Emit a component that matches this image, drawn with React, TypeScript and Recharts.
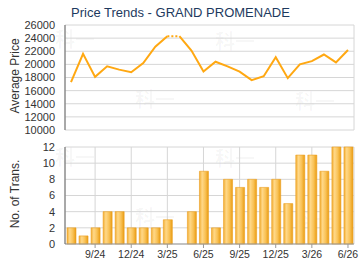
import { LineChart, Line, BarChart, Bar, XAxis, YAxis, CartesianGrid } from "recharts";

const months = [
  "7/24", "8/24", "9/24", "10/24", "11/24", "12/24", "1/25", "2/25", "3/25", "4/25", "5/25", "6/25",
  "7/25", "8/25", "9/25", "10/25", "11/25", "12/25", "1/26", "2/26", "3/26", "4/26", "5/26", "6/26",
];
const avgPrice = [
  17300, 21600, 18100, 19700, 19200, 18800, 20200, 22700, 24300, 24300, 22100, 18900,
  20400, 19700, 18900, 17600, 18200, 21100, 17900, 20000, 20500, 21500, 20300, 22200,
];
const noTrans = [2, 1, 2, 4, 4, 2, 2, 2, 3, 0, 4, 9, 2, 8, 7, 8, 7, 8, 5, 11, 11, 9, 12, 12];
const tickMonths = ["9/24", "12/24", "3/25", "6/25", "9/25", "12/25", "3/26", "6/26"];
const priceTicks = [10000, 12000, 14000, 16000, 18000, 20000, 22000, 24000, 26000];
const transTicks = [0, 2, 4, 6, 8, 10, 12];

// month with no transactions: price carried over, drawn dotted
const gap = noTrans.indexOf(0);
const priceData = months.map((m, i) => ({
  month: m,
  before: i < gap ? avgPrice[i] : null,
  dotted: i === gap - 1 || i === gap ? avgPrice[i] : null,
  after: i >= gap ? avgPrice[i] : null,
}));
const transData = months.map((m, i) => ({ month: m, trans: noTrans[i] }));

const font = "Arial, 'Liberation Sans', sans-serif";
const tickStyle = { fontSize: 11, fill: "#333", fontFamily: font };
const lineColor = "#FFA812";

const marks = [
  { x: 55, y: 24 }, { x: 215, y: 26 }, { x: 135, y: 84 }, { x: 295, y: 86 },
  { x: 55, y: 142 }, { x: 215, y: 143 }, { x: 135, y: 202 }, { x: 295, y: 204 },
];

function SideLabel({ text, cy }: { text: string; cy: number }) {
  return (
    <div
      style={{
        position: "absolute",
        left: 14.5 - 60,
        top: cy - 8,
        width: 120,
        height: 16,
        lineHeight: "16px",
        textAlign: "center",
        fontSize: 12,
        fontFamily: font,
        color: "#333",
        transform: "rotate(-90deg)",
      }}
    >
      {text}
    </div>
  );
}

export default function App() {
  return (
    <div
      style={{
        position: "absolute",
        left: 0,
        top: 0,
        width: 360,
        height: 270,
        background: "#fff",
        overflow: "hidden",
      }}
    >
      {marks.map((m, i) => (
        <div
          key={i}
          style={{
            position: "absolute",
            left: m.x,
            top: m.y,
            fontSize: 20,
            fontWeight: 700,
            fontFamily: "'Noto Sans CJK SC'",
            color: "rgba(0,0,0,0.04)",
          }}
        >
          科一
        </div>
      ))}
      <div
        style={{
          position: "absolute",
          left: 71,
          top: 5,
          fontSize: 13,
          fontFamily: font,
          color: "#1d3a5e",
          whiteSpace: "nowrap",
        }}
      >
        Price Trends - GRAND PROMENADE
      </div>
      <SideLabel text="Average Price" cy={76} />
      <SideLabel text="No. of Trans." cy={194} />

      <div style={{ position: "absolute", left: 0, top: 0 }}>
        <LineChart width={360} height={135} data={priceData} margin={{ top: 25, right: 6, bottom: 5, left: 0 }}>
          <CartesianGrid stroke="#d6d6d6" />
          <XAxis
            dataKey="month"
            ticks={tickMonths}
            interval={0}
            height={0}
            padding={{ left: 6, right: 6 }}
            tick={false}
            tickLine={false}
            axisLine={{ stroke: "#999" }}
          />
          <YAxis
            width={65}
            domain={[10000, 26000]}
            ticks={priceTicks}
            interval={0}
            tick={tickStyle}
            tickSize={0}
            tickMargin={10}
            axisLine={{ stroke: "#666" }}
          />
          <Line dataKey="before" stroke={lineColor} strokeWidth={2} dot={false} isAnimationActive={false} />
          <Line
            dataKey="dotted"
            stroke={lineColor}
            strokeWidth={2}
            strokeDasharray="2 2"
            dot={false}
            isAnimationActive={false}
          />
          <Line dataKey="after" stroke={lineColor} strokeWidth={2} dot={false} isAnimationActive={false} />
        </LineChart>
      </div>

      <div style={{ position: "absolute", left: 0, top: 135 }}>
        <BarChart width={360} height={135} data={transData} margin={{ top: 12, right: 6, bottom: 6, left: 0 }}>
          <defs>
            <linearGradient id="barFill" x1="0" y1="0" x2="1" y2="0">
              <stop offset="0%" stopColor="#F2AE34" />
              <stop offset="30%" stopColor="#FFD888" />
              <stop offset="65%" stopColor="#F9C257" />
              <stop offset="100%" stopColor="#E99C12" />
            </linearGradient>
          </defs>
          <CartesianGrid stroke="#d6d6d6" />
          <XAxis
            dataKey="month"
            ticks={tickMonths}
            interval={0}
            height={20}
            tick={{ ...tickStyle, fontSize: 10.5 }}
            tickSize={4}
            tickMargin={3}
            tickLine={{ stroke: "#999" }}
            axisLine={{ stroke: "#999" }}
          />
          <YAxis
            width={65}
            domain={[0, 12]}
            ticks={transTicks}
            interval={0}
            tick={tickStyle}
            tickSize={0}
            tickMargin={10}
            axisLine={{ stroke: "#666" }}
          />
          <Bar dataKey="trans" barSize={9} fill="url(#barFill)" stroke="#EDA020" strokeWidth={0.6} isAnimationActive={false} />
        </BarChart>
      </div>
    </div>
  );
}
